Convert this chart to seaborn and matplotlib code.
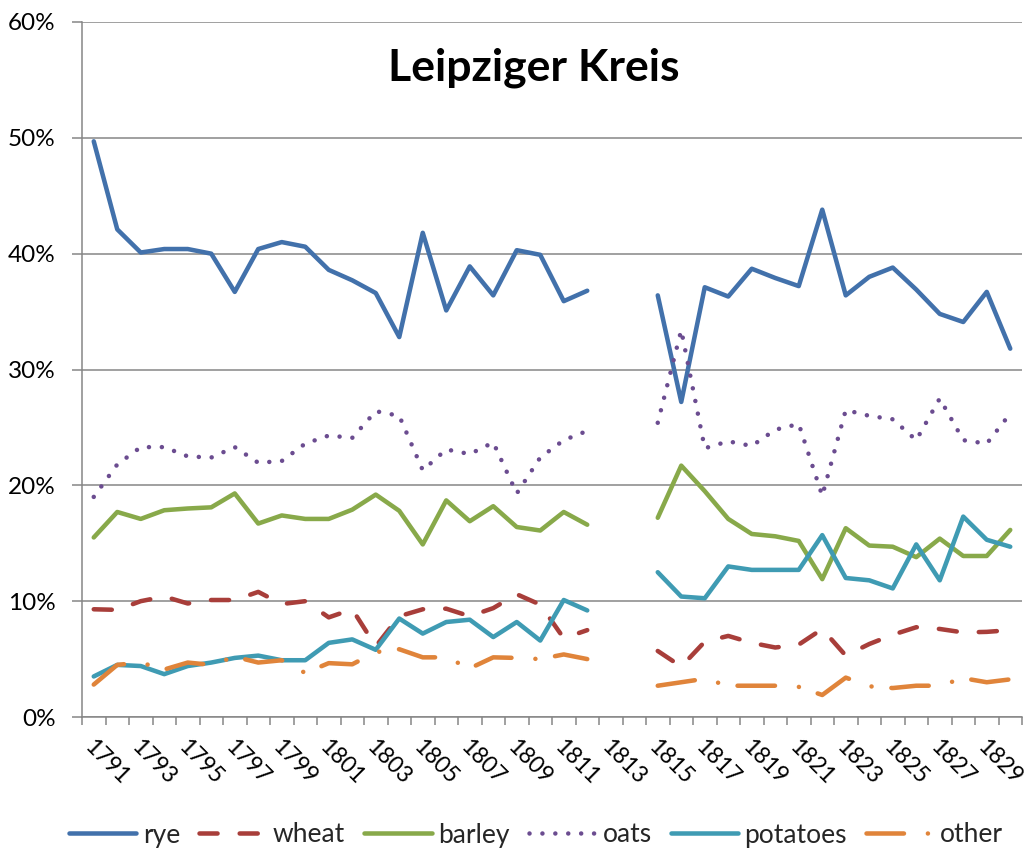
import numpy as np
import pandas as pd
import matplotlib
matplotlib.use("Agg")
import matplotlib.pyplot as plt
import matplotlib.transforms as mtransforms
from matplotlib.lines import Line2D
import seaborn as sns

nan = np.nan
years = list(range(1791, 1831))

rye = [49.7, 42.1, 40.1, 40.4, 40.4, 40.0, 36.7, 40.4, 41.0, 40.6, 38.6, 37.7, 36.6, 32.8, 41.8, 35.1, 38.9, 36.4, 40.3, 39.9, 35.9, 36.8,
       nan, nan,
       36.4, 27.2, 37.1, 36.3, 38.7, 37.9, 37.2, 43.8, 36.4, 38.0, 38.8, 36.9, 34.8, 34.1, 36.7, 31.8]
wheat = [9.3, 9.25, 10.0, 10.4, 9.8, 10.1, 10.1, 10.8, 9.75, 10.0, 8.6, 9.3, 6.1, 8.7, 9.3, 9.35, 8.7, 9.4, 10.6, 9.7, 6.8, 7.5,
         nan, nan,
         5.7, 4.35, 6.5, 7.0, 6.4, 6.0, 6.25, 7.6, 5.3, 6.3, 7.1, 7.75, 7.6, 7.3, 7.35, 7.5]
barley = [15.5, 17.7, 17.1, 17.85, 18.0, 18.1, 19.3, 16.7, 17.4, 17.1, 17.1, 17.9, 19.2, 17.8, 14.9, 18.7, 16.9, 18.2, 16.4, 16.1, 17.7, 16.6,
          nan, nan,
          17.2, 21.7, 19.5, 17.1, 15.8, 15.6, 15.2, 11.9, 16.3, 14.8, 14.7, 13.8, 15.4, 13.9, 13.9, 16.15]
oats = [19.0, 21.8, 23.3, 23.3, 22.5, 22.4, 23.3, 21.95, 22.1, 23.6, 24.3, 24.1, 26.4, 26.0, 21.3, 23.1, 22.7, 23.7, 19.3, 22.4, 23.9, 24.7,
        nan, nan,
        25.4, 33.4, 23.2, 23.8, 23.4, 24.8, 25.3, 19.1, 26.5, 26.0, 25.7, 23.9, 27.5, 23.9, 23.6, 26.2]
potatoes = [3.5, 4.5, 4.4, 3.7, 4.4, 4.7, 5.1, 5.3, 4.9, 4.9, 6.4, 6.7, 5.8, 8.5, 7.2, 8.2, 8.4, 6.9, 8.2, 6.6, 10.1, 9.2,
            nan, nan,
            12.5, 10.4, 10.25, 13.0, 12.7, 12.7, 12.7, 15.7, 12.0, 11.8, 11.1, 14.9, 11.8, 17.3, 15.3, 14.7]
other = [2.8, 4.5, 4.7, 4.1, 4.7, 4.5, 5.2, 4.7, 4.9, 3.8, 4.65, 4.55, 5.6, 5.85, 5.15, 5.15, 4.2, 5.15, 5.1, 5.0, 5.4, 5.0,
         nan, nan,
         2.7, 3.0, 3.3, 2.7, 2.7, 2.7, 2.6, 1.9, 3.4, 2.65, 2.5, 2.7, 2.7, 3.35, 3.0, 3.25]

series_names = ["rye", "wheat", "barley", "oats", "potatoes", "other"]
series_values = [rye, wheat, barley, oats, potatoes, other]
colors = ["#4271AB", "#A83E3A", "#88A94A", "#6B4C90", "#3F9BB3", "#E0843A"]
styles = ["-", (0, (4.0, 4.9)), "-", (0, (0.01, 2.85)), "-", (0, (8.3, 5.3, 0.01, 4.4))]
ytick_vals = [0, 10, 20, 30, 40, 50, 60]
ytick_labels = ["0%", "10%", "20%", "30%", "40%", "50%", "60%"]
title = "Leipziger Kreis"

sns.set_style("white")
plt.rcParams["font.family"] = ["Lato", "DejaVu Sans"]

fig = plt.figure(figsize=(10.25, 8.49), dpi=100)
ax = fig.add_axes([82 / 1025, 132 / 849, 940 / 1025, 695 / 849])

lw = 3.25
df = pd.DataFrame({"year": years, **dict(zip(series_names, series_values))})
for name, col, ls in zip(series_names, colors, styles):
    s = df[["year", name]].copy()
    seg_id = s[name].isna().cumsum()
    for _, part in s[s[name].notna()].groupby(seg_id[s[name].notna()]):
        sns.lineplot(data=part, x="year", y=name, ax=ax, color=col, linewidth=lw,
                     linestyle=ls, solid_capstyle="round", dash_capstyle="round",
                     solid_joinstyle="round", dash_joinstyle="round", zorder=3)

gray = "#868686"
ax.set_xlim(years[0] - 0.5, years[-1] + 0.5)
ax.set_ylim(0, 60)
ax.set_yticks(ytick_vals)
ax.set_yticklabels(ytick_labels)
ax.grid(axis="y", color=gray, linewidth=1.1)
ax.grid(axis="x", visible=False)
ax.set_axisbelow(True)
for sp in ["top", "right"]:
    ax.spines[sp].set_visible(False)
for sp in ["left", "bottom"]:
    ax.spines[sp].set_color(gray)
    ax.spines[sp].set_linewidth(1.1)
    ax.spines[sp].set_zorder(4)

ax.tick_params(axis="y", length=7, width=1.1, color=gray, labelsize=17.5, pad=12, labelcolor="black", left=True)
xt = years[::2]
ax.set_xticks(xt)
ax.set_xticklabels([str(y) for y in xt])
ax.set_xticks([y - 0.5 for y in years] + [years[-1] + 0.5], minor=True)
ax.tick_params(axis="x", which="major", length=0, pad=14, labelsize=16.5, labelcolor="black")
ax.tick_params(axis="x", which="minor", length=5.8, width=1.1, color=gray, bottom=True)
offset = mtransforms.ScaledTranslation(1 / 100, 0, fig.dpi_scale_trans)
for lab in ax.get_xticklabels():
    lab.set_rotation(-45)
    lab.set_ha("left")
    lab.set_va("top")
    lab.set_rotation_mode("anchor")
    lab.set_transform(lab.get_transform() + offset)
ax.set_xlabel("")
ax.set_ylabel("")

fig.text(534 / 1025, 1 - 68 / 849, title, ha="center", va="center", fontsize=32, fontweight="bold", color="black")

handles = [Line2D([0], [0], color=c, linewidth=lw, linestyle=ls, solid_capstyle="round", dash_capstyle="round")
           for c, ls in zip(colors, styles)]
fig.legend(handles, series_names, loc="center", bbox_to_anchor=(536 / 1025, 14 / 849), ncol=6, frameon=False,
           fontsize=19, handlelength=2.55, handletextpad=0.25, columnspacing=0.72, borderaxespad=0)

fig.savefig("out.png", dpi=100)
